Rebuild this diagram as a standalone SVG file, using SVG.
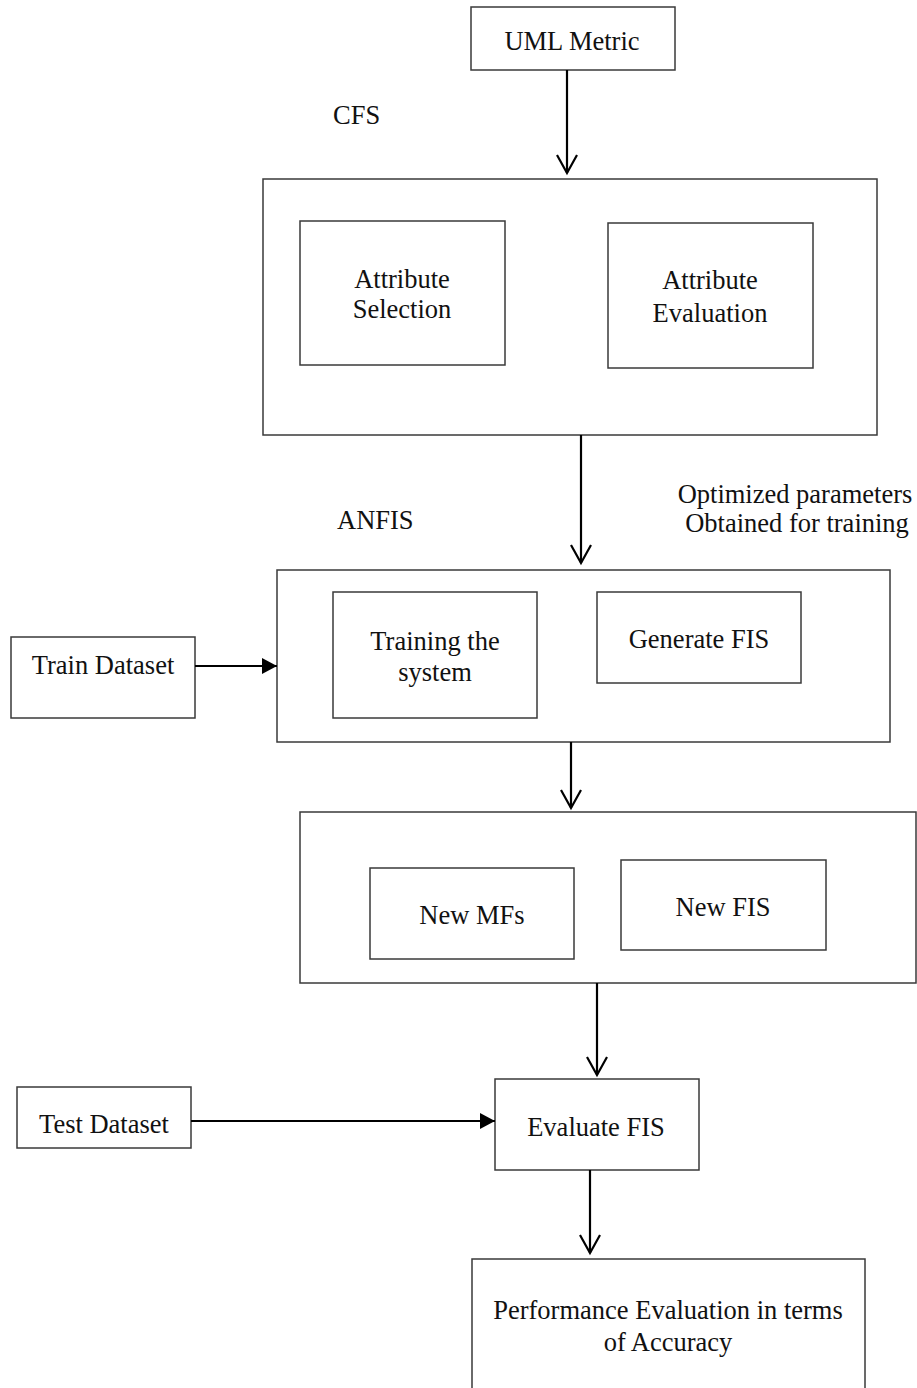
<svg xmlns="http://www.w3.org/2000/svg" width="917" height="1388" viewBox="0 0 917 1388">
<defs>
<style>
.box{fill:#fff;stroke:#3a3a3a;stroke-width:1.5}
.ln{fill:none;stroke:#000;stroke-width:2.2}
.t{font-family:"Liberation Serif","Times New Roman",serif;font-size:26.5px;fill:#111}
.c{text-anchor:middle}
</style>
<marker id="open" markerUnits="userSpaceOnUse" markerWidth="24" markerHeight="24" viewBox="-20 -12 24 24" refX="0" refY="0" orient="auto">
<polyline points="-18,-10 0,0 -18,10" fill="none" stroke="#000" stroke-width="2.2"/>
</marker>
<marker id="filled" markerUnits="userSpaceOnUse" markerWidth="20" markerHeight="20" viewBox="-16 -10 20 20" refX="0" refY="0" orient="auto">
<polygon points="-15,-8 0,0 -15,8" fill="#000"/>
</marker>
</defs>
<rect width="917" height="1388" fill="#fff"/>

<g id="uml">
<rect class="box" x="471" y="7" width="204" height="63"/>
<text class="t c" x="572" y="50">UML Metric</text>
</g>

<text id="cfs-label" class="t" x="333" y="124">CFS</text>

<g id="cfs">
<rect class="box" x="263" y="179" width="614" height="256"/>
</g>
<g id="attr-selection">
<rect class="box" x="300" y="221" width="205" height="144"/>
<text class="t c" x="402" y="288">Attribute</text>
<text class="t c" x="402" y="318">Selection</text>
</g>
<g id="attr-evaluation">
<rect class="box" x="608" y="223" width="205" height="145"/>
<text class="t c" x="710" y="289">Attribute</text>
<text class="t c" x="710" y="322">Evaluation</text>
</g>

<text id="anfis-label" class="t" x="337" y="529">ANFIS</text>
<g id="opt-label">
<text class="t c" x="795" y="503">Optimized parameters</text>
<text class="t c" x="797" y="532">Obtained for training</text>
</g>

<g id="anfis">
<rect class="box" x="277" y="570" width="613" height="172"/>
</g>
<g id="training">
<rect class="box" x="333" y="592" width="204" height="126"/>
<text class="t c" x="435" y="650">Training the</text>
<text class="t c" x="435" y="681">system</text>
</g>
<g id="generate-fis">
<rect class="box" x="597" y="592" width="204" height="91"/>
<text class="t c" x="699" y="648">Generate FIS</text>
</g>

<g id="train-dataset">
<rect class="box" x="11" y="637" width="184" height="81"/>
<text class="t c" x="103" y="674">Train Dataset</text>
</g>

<g id="new">
<rect class="box" x="300" y="812" width="616" height="171"/>
</g>
<g id="new-mfs">
<rect class="box" x="370" y="868" width="204" height="91"/>
<text class="t c" x="472" y="924">New MFs</text>
</g>
<g id="new-fis">
<rect class="box" x="621" y="860" width="205" height="90"/>
<text class="t c" x="723" y="916">New FIS</text>
</g>

<g id="test-dataset">
<rect class="box" x="17" y="1087" width="174" height="61"/>
<text class="t c" x="104" y="1133">Test Dataset</text>
</g>

<g id="evaluate-fis">
<rect class="box" x="495" y="1079" width="204" height="91"/>
<text class="t c" x="596" y="1136">Evaluate FIS</text>
</g>

<g id="performance">
<rect class="box" x="472" y="1259" width="393" height="160"/>
<text class="t c" x="668" y="1319">Performance Evaluation in terms</text>
<text class="t c" x="668" y="1351">of Accuracy</text>
</g>

<g id="connectors">
<line class="ln" x1="567" y1="70" x2="567" y2="173" marker-end="url(#open)"/>
<line class="ln" x1="581" y1="435" x2="581" y2="563" marker-end="url(#open)"/>
<line class="ln" x1="195" y1="666" x2="277" y2="666" marker-end="url(#filled)"/>
<line class="ln" x1="571" y1="742" x2="571" y2="808" marker-end="url(#open)"/>
<line class="ln" x1="597" y1="983" x2="597" y2="1075" marker-end="url(#open)"/>
<line class="ln" x1="191" y1="1121" x2="495" y2="1121" marker-end="url(#filled)"/>
<line class="ln" x1="590" y1="1170" x2="590" y2="1253" marker-end="url(#open)"/>
</g>
</svg>
